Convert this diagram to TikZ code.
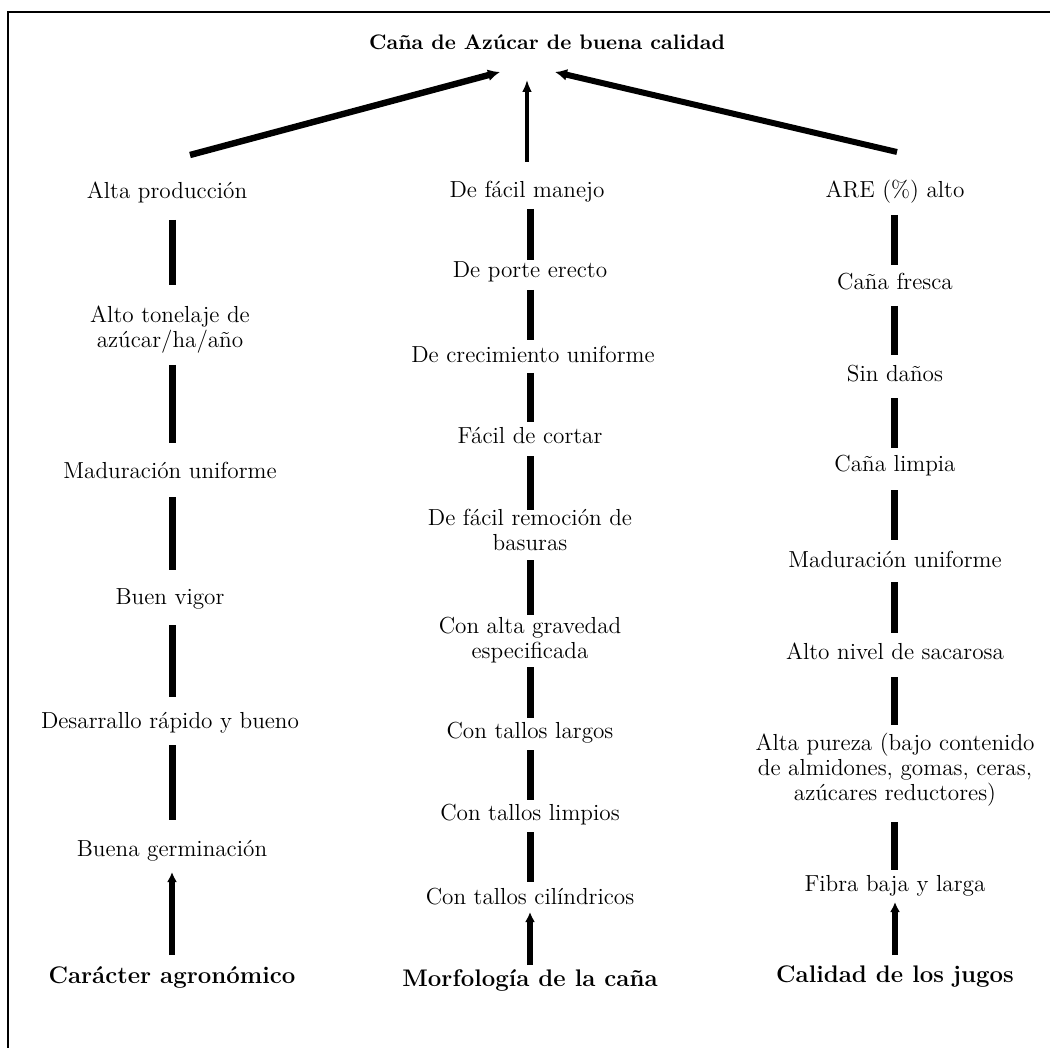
\documentclass[tikz,border=0pt]{standalone}
\usetikzlibrary{arrows.meta}
\begin{document}
\begin{tikzpicture}[x=0.5pt,y=-0.5pt,
  txt/.style={font=\fontsize{11.6}{12.5}\selectfont, align=center, inner sep=0pt},
  hd/.style={font=\bfseries\fontsize{12}{13}\selectfont, align=center, inner sep=0pt},
  ttl/.style={font=\bfseries\fontsize{10.5}{13}\selectfont, align=center, inner sep=0pt},
  bar/.style={line width=3.5pt},
  arr/.style={line width=2.6pt, -{Latex[length=5pt,width=5pt]}},
  toparr/.style={line width=3pt, -{Latex[length=6pt,width=6pt]}},
  frame/.style={line width=1pt}]
\useasboundingbox (0,0) rectangle (1050,1048);
\begin{scope}
\clip (0,0) rectangle (1050,1048);
\draw[frame] (8,1100) -- (8,12) -- (1100,12);
\end{scope}
% title
\node[ttl] (t) at (547,42) {Caña de Azúcar de buena calidad};
% column 1
\node[txt] (a1) at (167,192) {Alta producción};
\node[txt] (a2) at (170,330) {Alto tonelaje de\\azúcar/ha/año};
\node[txt] (a3) at (170,470) {Maduración uniforme};
\node[txt] (a4) at (170,599) {Buen vigor};
\node[txt] (a5) at (170,723) {Desarrallo rápido y bueno};
\node[txt] (a6) at (172,851) {Buena germinación};
\node[hd]  (a7) at (172,977) {Carácter agronómico};
% column 2
\node[txt] (b1) at (527,192) {De fácil manejo};
\node[txt] (b2) at (530,272) {De porte erecto};
\node[txt] (b3) at (533,354) {De crecimiento uniforme};
\node[txt] (b4) at (530,436) {Fácil de cortar};
\node[txt] (b5) at (530,530) {De fácil remoción de\\basuras};
\node[txt] (b6) at (530,640) {Con alta gravedad\\especificada};
\node[txt] (b7) at (530,733) {Con tallos largos};
\node[txt] (b8) at (530,815) {Con tallos limpios};
\node[txt] (b9) at (530,897) {Con tallos cilíndricos};
\node[hd]  (b10) at (530,980) {Morfología de la caña};
% column 3
\node[txt] (c1) at (895,192) {ARE (\%) alto};
\node[txt] (c2) at (895,282) {Caña fresca};
\node[txt] (c3) at (895,374) {Sin daños};
\node[txt] (c4) at (895,466) {Caña limpia};
\node[txt] (c5) at (895,559) {Maduración uniforme};
\node[txt] (c6) at (895,651) {Alto nivel de sacarosa};
\node[txt] (c7) at (895,770) {Alta pureza (bajo contenido\\de almidones, gomas, ceras,\\azúcares reductores)};
\node[txt] (c8) at (895,886) {Fibra baja y larga};
\node[hd]  (c9) at (895,977) {Calidad de los jugos};
% vertical bars
\newcommand\vb[5]{\draw[bar] ([yshift=-#2*0.5pt]#1.center -| #5,0) -- ([yshift=#4*0.5pt]#3.center -| #5,0);}
\vb{a1}{28}{a2}{45}{172}
\vb{a2}{35}{a3}{27}{172}
\vb{a3}{27}{a4}{29}{172}
\vb{a4}{26}{a5}{26}{172}
\vb{a5}{22}{a6}{31}{172}
\vb{b1}{17}{b2}{12}{530}
\vb{b2}{18}{b3}{14}{530}
\vb{b3}{19}{b4}{14}{530}
\vb{b4}{20}{b5}{20}{530}
\vb{b5}{30}{b6}{25}{530}
\vb{b6}{27}{b7}{15}{530}
\vb{b7}{17}{b8}{15}{530}
\vb{b8}{17}{b9}{15}{530}
\vb{c1}{23}{c2}{17}{894}
\vb{c2}{24}{c3}{19}{894}
\vb{c3}{24}{c4}{18}{894}
\vb{c4}{24}{c5}{19}{894}
\vb{c5}{23}{c6}{18}{894}
\vb{c6}{26}{c7}{45}{894}
\vb{c7}{52}{c8}{16}{894}
% bottom arrows
\draw[arr] ([yshift=11pt]a7.center) -- ([yshift=-10.5pt]a6.center);
\draw[arr] ([yshift=7.5pt]b10.center) -- ([yshift=-7.5pt]b9.center);
\draw[arr] ([yshift=11pt]c9.center) -- ([yshift=-8pt]c8.center);
% top arrows
\draw[toparr, line width=3.2pt] ([xshift=11.5pt,yshift=18.5pt]a1.center) -- ([xshift=-23.5pt,yshift=-15pt]t.center);
\draw[toparr, line width=1.8pt, -{Latex[length=6pt,width=5pt]}] ([yshift=15pt]b1.center) -- ([xshift=-10pt,yshift=-19pt]t.center);
\draw[toparr, line width=3pt] ([xshift=1pt,yshift=20pt]c1.center) -- ([xshift=4pt,yshift=-15pt]t.center);
\end{tikzpicture}
\end{document}
